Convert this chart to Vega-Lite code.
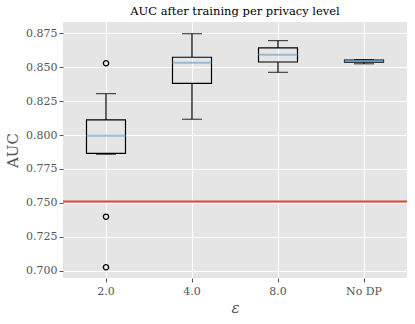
{
  "$schema": "https://vega.github.io/schema/vega-lite/v6.json",
  "width": 344,
  "height": 256,
  "autosize": {"type": "none"},
  "padding": {"left": 63, "top": 22, "right": 8, "bottom": 46},
  "background": "white",
  "title": {
    "text": "AUC after training per privacy level",
    "font": "DejaVu Serif",
    "fontSize": 11.5,
    "fontWeight": "normal",
    "color": "#000000",
    "offset": 5
  },
  "config": {
    "view": {"fill": "#E5E5E5", "stroke": null},
    "axis": {
      "labelFont": "DejaVu Serif",
      "titleFont": "DejaVu Serif",
      "labelColor": "#555555",
      "titleColor": "#555555",
      "tickColor": "#555555",
      "gridColor": "#FFFFFF",
      "gridWidth": 1,
      "domain": false,
      "tickSize": 4,
      "labelFontSize": 11,
      "titleFontSize": 15,
      "titleFontWeight": "normal",
      "labelOverlap": false
    },
    "axisY": {
      "values": [0.7, 0.725, 0.75, 0.775, 0.8, 0.825, 0.85, 0.875],
      "format": ".3f",
      "labelPadding": 2,
      "titleX": -51,
      "titleY": 128,
      "titleAngle": -90,
      "titleAlign": "center",
      "titleBaseline": "middle"
    }
  },
  "data": {
    "values": [
      {"eps": "2.0", "lower": 0.7858, "q1": 0.7865, "median": 0.7995, "q3": 0.8111, "upper": 0.8305},
      {"eps": "4.0", "lower": 0.8116, "q1": 0.8381, "median": 0.8533, "q3": 0.8573, "upper": 0.8747},
      {"eps": "8.0", "lower": 0.8462, "q1": 0.8538, "median": 0.8592, "q3": 0.8642, "upper": 0.8696},
      {"eps": "No DP", "lower": 0.8525, "q1": 0.8537, "median": 0.8545, "q3": 0.8552, "upper": 0.8556}
    ]
  },
  "encoding": {
    "x": {
      "field": "eps",
      "type": "nominal",
      "sort": ["2.0", "4.0", "8.0", "No DP"],
      "scale": {"paddingInner": 0, "paddingOuter": 0},
      "axis": {
        "title": "ε",
        "titleFontStyle": "italic",
        "labelAngle": 0,
        "bandPosition": 0.5,
        "grid": true,
        "labelPadding": 3,
        "titlePadding": 4
      }
    }
  },
  "layer": [
    {
      "mark": {"type": "rule", "color": "#000000", "strokeWidth": 1.2},
      "encoding": {
        "y": {
          "field": "lower",
          "type": "quantitative",
          "title": "AUC",
          "scale": {"domain": [0.6946, 0.8833], "nice": false, "zero": false},
          "axis": {"values": [0.7, 0.725, 0.75, 0.775, 0.8, 0.825, 0.85, 0.875], "tickCount": 8}
        },
        "y2": {"field": "q1"}
      }
    },
    {
      "mark": {"type": "rule", "color": "#000000", "strokeWidth": 1.2},
      "encoding": {
        "y": {"field": "q3", "type": "quantitative", "title": "AUC"},
        "y2": {"field": "upper"}
      }
    },
    {
      "mark": {"type": "tick", "color": "#000000", "size": 20, "thickness": 1.2},
      "encoding": {"y": {"field": "lower", "type": "quantitative", "title": "AUC"}}
    },
    {
      "mark": {"type": "tick", "color": "#000000", "size": 20, "thickness": 1.2},
      "encoding": {"y": {"field": "upper", "type": "quantitative", "title": "AUC"}}
    },
    {
      "mark": {"type": "bar", "fill": null, "fillOpacity": 0, "stroke": "#000000", "strokeWidth": 1.2, "size": 39},
      "encoding": {
        "y": {"field": "q1", "type": "quantitative", "title": "AUC"},
        "y2": {"field": "q3"}
      }
    },
    {
      "mark": {"type": "tick", "color": "#6CA8D8", "size": 39, "thickness": 2},
      "encoding": {"y": {"field": "median", "type": "quantitative", "title": "AUC"}}
    },
    {
      "data": {
        "values": [
          {"eps": "2.0", "auc": 0.8529},
          {"eps": "2.0", "auc": 0.7398},
          {"eps": "2.0", "auc": 0.7025}
        ]
      },
      "mark": {"type": "point", "shape": "circle", "filled": false, "stroke": "#000000", "strokeWidth": 1.3, "size": 28, "opacity": 1},
      "encoding": {"y": {"field": "auc", "type": "quantitative", "title": "AUC"}}
    },
    {
      "data": {"values": [{"level": 0.751}]},
      "mark": {"type": "rule", "color": "#E8452F", "strokeWidth": 1.8},
      "encoding": {"y": {"field": "level", "type": "quantitative", "title": "AUC"}, "x": null}
    }
  ]
}
